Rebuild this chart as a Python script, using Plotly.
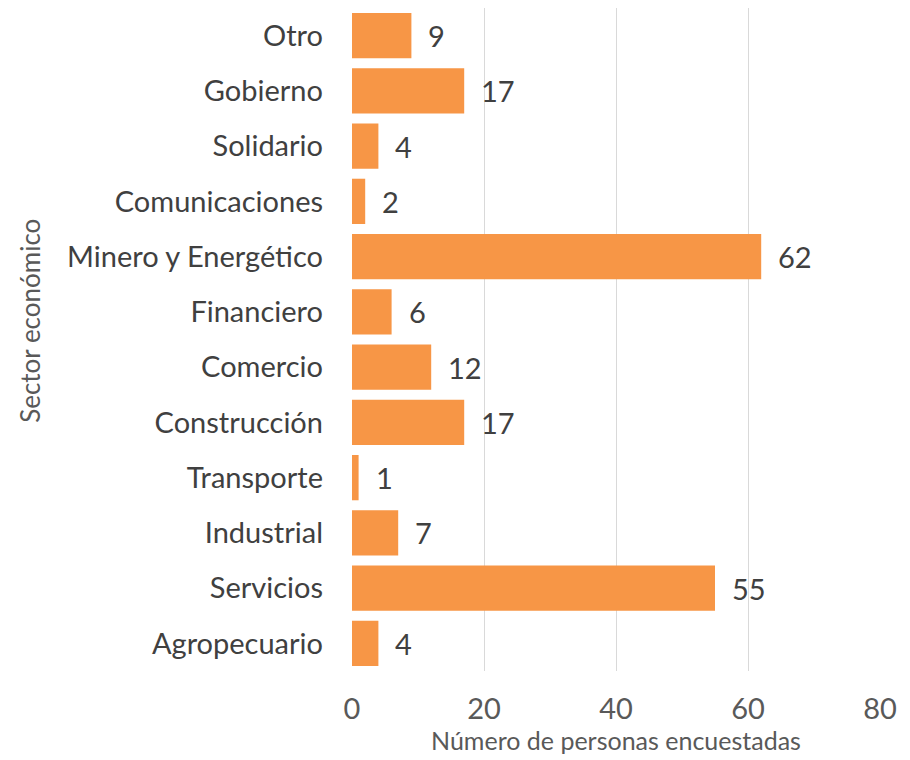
import plotly.graph_objects as go

sectores = ["Agropecuario", "Servicios", "Industrial", "Transporte", "Construcción",
            "Comercio", "Financiero", "Minero y Energético", "Comunicaciones",
            "Solidario", "Gobierno", "Otro"]
valores = [4, 55, 7, 1, 17, 12, 6, 62, 2, 4, 17, 9]
x_ticks = [0, 20, 40, 60, 80]

FONT = "Lato, Carlito, 'Open Sans', sans-serif"
BAR = "#F79646"

fig = go.Figure()
fig.add_trace(go.Bar(
    y=sectores, x=valores, orientation="h",
    marker=dict(color=BAR, line=dict(width=0)),
    hoverinfo="skip",
))
for s, v in zip(sectores, valores):
    fig.add_annotation(x=v, y=s, text=str(v), showarrow=False, xanchor="left",
                       xshift=15, font=dict(family=FONT, size=29, color="#404040"))

fig.add_annotation(text="Sector económico", xref="paper", yref="paper",
                   x=-0.61, y=0.528, xanchor="center", yanchor="middle",
                   textangle=-90, showarrow=False,
                   font=dict(family=FONT, size=26, color="#595959"))

fig.update_layout(
    width=902, height=752,
    margin=dict(l=344, r=30, t=0, b=89),
    paper_bgcolor="white", plot_bgcolor="white",
    bargap=0.18,
    showlegend=False,
    font=dict(family=FONT),
    xaxis=dict(range=[0, 80], tickvals=x_ticks, showgrid=True,
               gridcolor="#D9D9D9", gridwidth=1.3, zeroline=False,
               showline=False, ticks="", ticklabelstandoff=18,
               tickfont=dict(family=FONT, size=29, color="#595959"),
               title=dict(text="Número de personas encuestadas", standoff=6,
                          font=dict(family=FONT, size=25, color="#595959"))),
    yaxis=dict(showgrid=False, zeroline=False, showline=False, ticks="",
               ticklabelstandoff=28,
               tickfont=dict(family=FONT, size=29, color="#404040")),
)
fig.write_html("out.html")
